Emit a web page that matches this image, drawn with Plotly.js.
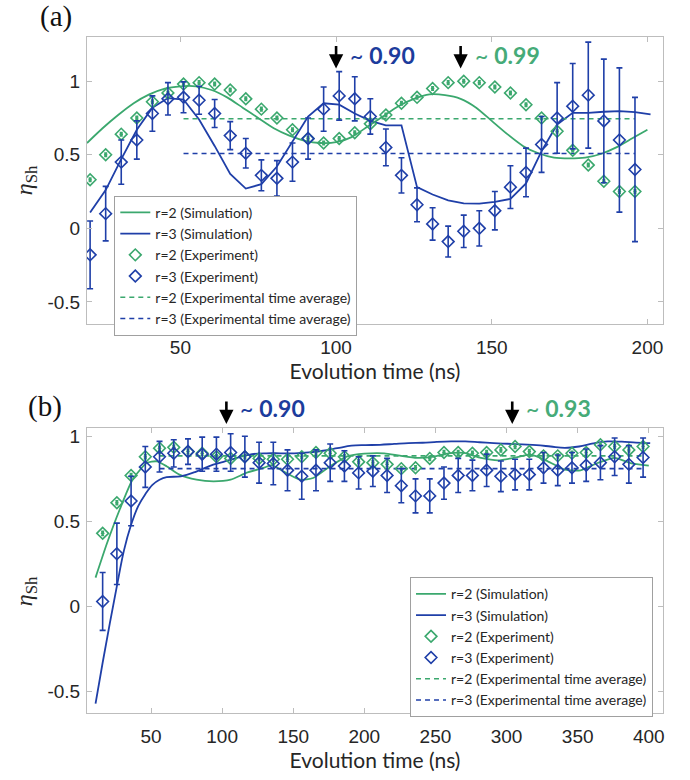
<!DOCTYPE html>
<html>
<head>
<meta charset="utf-8">
<script src="https://cdn.plot.ly/plotly-3.0.1.min.js"></script>
<style>html,body{margin:0;padding:0;background:#fff;}#chart{width:690px;height:780px;}</style>
</head>
<body>
<div id="chart"></div>
<script>
// ---------- Panel (a) data ----------
const tExpA = [21,26,31,36,41,46,51,56,61,66,71,76,81,86,91,96,101,106,111,116,121,126,131,136,141,146,151,156,161,166,171,176,181,186,191,196];
const r2ExpA = [0.33,0.50,0.64,0.75,0.86,0.92,0.98,0.99,0.98,0.94,0.88,0.81,0.75,0.67,0.61,0.58,0.61,0.65,0.71,0.77,0.85,0.89,0.95,0.99,1.00,0.99,0.96,0.92,0.84,0.75,0.66,0.53,0.43,0.32,0.25,0.25];
const r3ExpA = [-0.18,0.10,0.45,0.60,0.78,0.88,0.89,0.87,0.78,0.63,0.51,0.36,0.34,0.45,0.61,0.81,0.90,0.88,0.76,0.55,0.36,0.16,0.03,-0.09,-0.02,0.00,0.12,0.28,0.38,0.57,0.75,0.83,0.905,0.73,0.60,0.40];
const r3ErrA = [0.23,0.185,0.15,0.13,0.12,0.11,0.105,0.095,0.095,0.095,0.10,0.105,0.12,0.13,0.14,0.15,0.165,0.15,0.12,0.125,0.12,0.115,0.11,0.105,0.11,0.12,0.13,0.145,0.165,0.19,0.24,0.29,0.36,0.42,0.49,0.49];

const tSimA2 = [20,25,30,35,40,45,50,55,60,65,70,75,80,85,90,95,100,105,110,115,120,125,130,135,140,145,150,155,160,165,170,175,180,185,190,195,200];
const r2SimA = [0.58,0.68,0.77,0.85,0.91,0.95,0.965,0.965,0.94,0.89,0.82,0.75,0.68,0.63,0.595,0.58,0.585,0.62,0.69,0.76,0.83,0.88,0.91,0.905,0.88,0.82,0.73,0.64,0.56,0.51,0.48,0.475,0.48,0.505,0.55,0.61,0.67];
const tSimA3 = [21,26,31,36,41,46,51,56,61,66,71,76,81,86,91,96,101,106,111,116,121,126,131,136,141,146,151,156,161,166,171,176,181,186,191,196,201];
const r3SimA = [0.107,0.26,0.47,0.67,0.82,0.885,0.875,0.74,0.56,0.37,0.27,0.30,0.42,0.59,0.76,0.85,0.84,0.78,0.73,0.70,0.70,0.28,0.23,0.19,0.17,0.168,0.18,0.20,0.305,0.525,0.706,0.785,0.785,0.792,0.796,0.79,0.774];

const tAvgA = [51,196];
const r2AvgA = [0.745,0.745];
const r3AvgA = [0.509,0.509];

// ---------- Panel (b) data ----------
const tExpB = [16,26,36,46,56,66,76,86,96,106,116,126,136,146,156,166,176,186,196,206,216,226,236,246,256,266,276,286,296,306,316,326,336,346,356,366,376,386,396];
const r2ExpB = [0.43,0.61,0.77,0.88,0.93,0.935,0.91,0.90,0.88,0.87,0.88,0.87,0.865,0.865,0.88,0.905,0.90,0.88,0.85,0.845,0.835,0.81,0.815,0.87,0.905,0.905,0.90,0.905,0.92,0.94,0.91,0.885,0.885,0.90,0.905,0.95,0.94,0.92,0.94];
const r3ExpB = [0.03,0.31,0.62,0.82,0.88,0.90,0.91,0.895,0.895,0.905,0.88,0.845,0.84,0.80,0.765,0.80,0.845,0.825,0.785,0.795,0.77,0.71,0.65,0.65,0.725,0.77,0.77,0.80,0.765,0.775,0.775,0.815,0.80,0.815,0.83,0.845,0.88,0.835,0.875];
const r3ErrB = [0.17,0.18,0.145,0.12,0.09,0.08,0.075,0.10,0.10,0.11,0.12,0.12,0.125,0.12,0.135,0.12,0.11,0.09,0.095,0.09,0.10,0.10,0.10,0.10,0.095,0.10,0.09,0.095,0.09,0.09,0.09,0.09,0.09,0.09,0.095,0.10,0.11,0.11,0.115];

const tSimB2 = [11,19,28,37,47,54,61,70,82,94,106,117,129,135,143,155,164,176,188,200,214,225,237,249,258,270,282,294,305,317,329,341,352,364,376,387,400];
const r2SimB = [0.17,0.37,0.57,0.745,0.843,0.853,0.824,0.775,0.745,0.735,0.745,0.785,0.814,0.83,0.794,0.745,0.755,0.824,0.882,0.898,0.90,0.886,0.873,0.88,0.898,0.902,0.873,0.859,0.873,0.892,0.853,0.804,0.80,0.843,0.873,0.843,0.828];
const tSimB3 = [11,16,21,26,31,36,41,46,51,56,61,71,81,91,101,111,121,131,141,151,161,171,181,191,201,211,221,231,241,251,261,271,281,291,301,311,321,331,341,351,361,371,381,391,401];
const r3SimB = [-0.57,-0.33,-0.10,0.12,0.33,0.48,0.59,0.66,0.715,0.745,0.76,0.765,0.79,0.825,0.85,0.875,0.895,0.90,0.90,0.90,0.905,0.915,0.93,0.945,0.948,0.95,0.955,0.96,0.962,0.967,0.97,0.97,0.965,0.96,0.956,0.952,0.948,0.94,0.932,0.94,0.958,0.97,0.968,0.963,0.96];

const tAvgB = [56,396];
const r2AvgB = [0.885,0.885];
const r3AvgB = [0.81,0.81];

// ---------- labels ----------
const xTickVals = [50,100,150,200];
const xTickValsB = [50,100,150,200,250,300,350,400];
const yTickVals = [-0.5,0,0.5,1];
const yTickText = ['-0.5','0','0.5','1'];
const legendNames = ['r=2 (Simulation)','r=3 (Simulation)','r=2 (Experiment)','r=3 (Experiment)','r=2 (Experimental time average)','r=3 (Experimental time average)'];
const arrowTimesA = [100,140];
const arrowTextsA = ['~ <b>0.90</b>','~ <b>0.99</b>'];
const arrowTimesB = [103,304];
const arrowTextsB = ['~ <b>0.90</b>','~ <b>0.93</b>'];
const xTitle = 'Evolution time (ns)';
const yTitle = '<i>η</i><sub>Sh</sub>';

// ---------- styles ----------
const GREEN = '#3ba86e';
const BLUE = '#1f3fa8';
const GREEN_TXT = '#46ab78';
const BLUE_TXT = '#1c3c9c';
const AXC = '#bdbdbd';

function panelTraces(suffix, leg, d) {
  const xa = 'x' + suffix, ya = 'y' + suffix;
  return [
    {x:d.tS2, y:d.s2, xaxis:xa, yaxis:ya, mode:'lines', line:{color:GREEN,width:1.8,shape:'spline',smoothing:0.6}, name:legendNames[0], legend:leg, legendrank:1},
    {x:d.tS3, y:d.s3, xaxis:xa, yaxis:ya, mode:'lines', line:{color:BLUE,width:1.8,shape:d.shape3}, name:legendNames[1], legend:leg, legendrank:2},
    {x:d.tAvg, y:d.a2, xaxis:xa, yaxis:ya, mode:'lines', line:{color:GREEN,width:1.6,dash:'5px,4px'}, name:legendNames[4], legend:leg, legendrank:5},
    {x:d.tAvg, y:d.a3, xaxis:xa, yaxis:ya, mode:'lines', line:{color:BLUE,width:1.6,dash:'5px,4px'}, name:legendNames[5], legend:leg, legendrank:6},
    {x:d.tE, y:d.e2, xaxis:xa, yaxis:ya, mode:'markers', marker:{symbol:'diamond-open',size:9,color:GREEN,line:{width:1.6,color:GREEN}},
      error_y:{type:'constant',value:0.012,color:GREEN,thickness:1.5,width:1.5}, name:legendNames[2], legend:leg, legendrank:3},
    {x:d.tE, y:d.e2, xaxis:xa, yaxis:ya, mode:'markers', marker:{symbol:'circle',size:3.5,color:GREEN}, showlegend:false, hoverinfo:'skip'},
    {x:d.tE, y:d.e3, xaxis:xa, yaxis:ya, mode:'markers', marker:{symbol:'diamond-open',size:9,color:BLUE,line:{width:1.6,color:BLUE}},
      error_y:{type:'data',array:d.err3,color:BLUE,thickness:1.6,width:3}, name:legendNames[3], legend:leg, legendrank:4}
  ];
}

const data = [].concat(
  panelTraces('', 'legend', {tS2:tSimA2, s2:r2SimA, tS3:tSimA3, s3:r3SimA, shape3:'linear', tAvg:tAvgA, a2:r2AvgA, a3:r3AvgA, tE:tExpA, e2:r2ExpA, e3:r3ExpA, err3:r3ErrA}),
  panelTraces('2', 'legend2', {tS2:tSimB2, s2:r2SimB, tS3:tSimB3, s3:r3SimB, shape3:'spline', tAvg:tAvgB, a2:r2AvgB, a3:r3AvgB, tE:tExpB, e2:r2ExpB, e3:r3ExpB, err3:r3ErrB})
);

const tickFont = {family:'Liberation Sans, Arial, sans-serif', size:19, color:'#262626'};
const titleFont = {family:'Lato, sans-serif', size:21, color:'#262626'};
function xAx(range, vals, anchor) {
  return {anchor:anchor, range:range, tickvals:vals, ticktext:vals.map(String), showgrid:false, zeroline:false,
    showline:true, linecolor:AXC, linewidth:1, mirror:'ticks', ticks:'inside', ticklen:5, tickcolor:AXC, tickwidth:1,
    tickfont:tickFont, ticklabelstandoff:6, title:{text:xTitle, font:titleFont, standoff:6}, automargin:false};
}
function yAx(range, domain, anchor) {
  return {anchor:anchor, domain:domain, range:range, tickvals:yTickVals, ticktext:yTickText, showgrid:false, zeroline:false,
    showline:true, linecolor:AXC, linewidth:1, mirror:'ticks', ticks:'inside', ticklen:5, tickcolor:AXC, tickwidth:1,
    tickfont:tickFont, ticklabelstandoff:2, automargin:false};
}
const legendStyle = {xanchor:'left', yanchor:'top', bgcolor:'#ffffff', bordercolor:'#a0a0a0', borderwidth:1,
  font:{family:'Lato, sans-serif', size:14, color:'#262626'}, itemwidth:30, tracegroupgap:0, traceorder:'normal'};

const annotations = [];
function addArrows(times, texts, xref, tipY, textY, colors) {
  times.forEach((t, i) => {
    annotations.push({x:t, xref:xref, y:tipY, yref:'paper', text:'', showarrow:true, ax:0, ay:-24,
      arrowhead:2, arrowsize:1.1, arrowwidth:2.6, arrowcolor:'#000000'});
    annotations.push({x:t, xref:xref, y:textY, yref:'paper', text:texts[i], showarrow:false, xanchor:'left', yanchor:'middle',
      xshift:12, font:{family:'Lato, sans-serif', size:23, color:colors[i]}});
  });
}
addArrows(arrowTimesA, arrowTextsA, 'x', 0.9534, 0.9734, [BLUE_TXT, GREEN_TXT]);
addArrows(arrowTimesB, arrowTextsB, 'x2', 0.4275, 0.4512, [BLUE_TXT, GREEN_TXT]);
annotations.push({text:'(a)', x:-0.0538, y:1.0296, xref:'paper', yref:'paper', showarrow:false, xanchor:'center', yanchor:'middle',
  font:{family:'Liberation Serif, Times New Roman, serif', size:29, color:'#111'}});
annotations.push({text:'(b)', x:-0.0729, y:0.454, xref:'paper', yref:'paper', showarrow:false, xanchor:'center', yanchor:'middle',
  font:{family:'Liberation Serif, Times New Roman, serif', size:29, color:'#111'}});
[0.788, 0.18].forEach(yy => annotations.push({text:yTitle, x:-0.106, y:yy, xref:'paper', yref:'paper', showarrow:false,
  textangle:-90, xanchor:'center', yanchor:'middle', font:{family:'Liberation Serif, Times New Roman, serif', size:24, color:'#262626'}}));

const layout = {
  width:690, height:780, margin:{l:87, r:27, t:37, b:67},
  paper_bgcolor:'#ffffff', plot_bgcolor:'#ffffff', showlegend:true,
  xaxis: xAx([20,205], xTickVals, 'y'),
  yaxis: yAx([-0.65,1.3], [0.5754,1], 'x'),
  xaxis2: xAx([5,410], xTickValsB, 'y2'),
  yaxis2: yAx([-0.625,1.047], [0,0.4212], 'x2'),
  legend: Object.assign({x:0.0474, y:0.765}, legendStyle),
  legend2: Object.assign({x:0.5608, y:0.2007}, legendStyle),
  annotations: annotations
};

Plotly.newPlot('chart', data, layout, {displayModeBar:false, staticPlot:true});
</script>
</body>
</html>
